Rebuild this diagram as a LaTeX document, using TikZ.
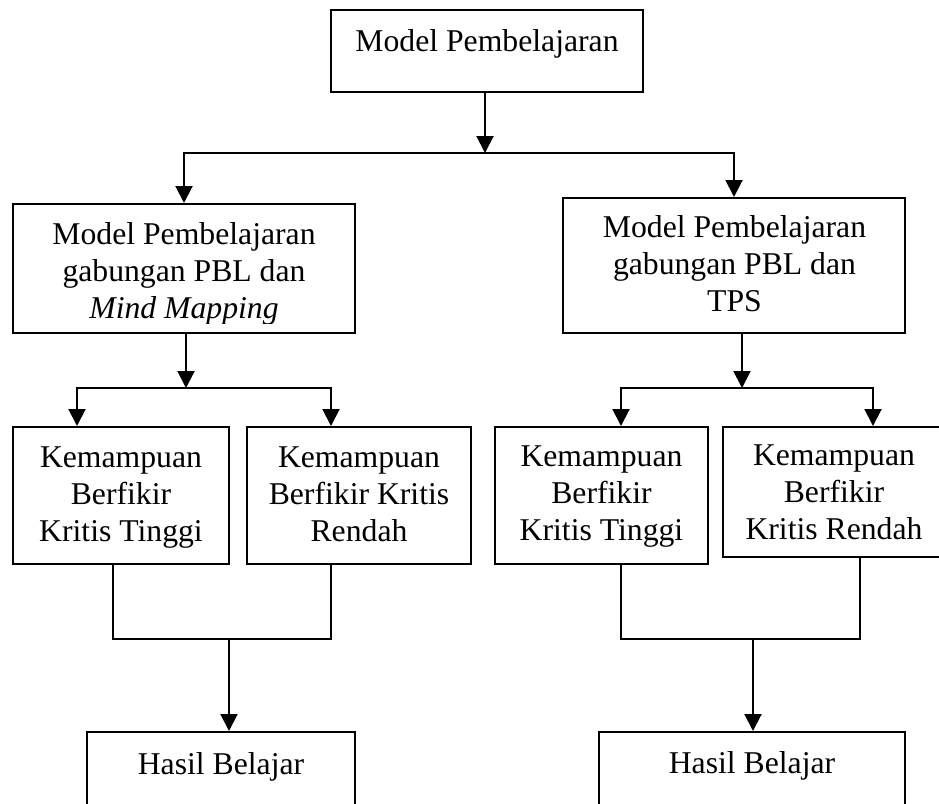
\documentclass[tikz,border=0pt]{standalone}
\usepackage{fontspec}
\setmainfont{Liberation Serif}
\usetikzlibrary{arrows.meta}
\begin{document}
\begin{tikzpicture}[x=1pt,y=-1pt,
  box/.style={draw,line width=2pt,rectangle,inner sep=0pt},
  txt/.style={inner sep=0pt,align=center,font=\fontsize{31.7}{37}\selectfont},
  conn/.style={line width=2pt},
  arr/.style={line width=2pt,-{Triangle[width=17pt,length=17pt]}},
  arrb/.style={line width=2pt,{Triangle[width=17pt,length=17pt]}-{Triangle[width=17pt,length=17pt]}}]
\useasboundingbox (0,0) rectangle (939,803);
\clip (0,0) rectangle (939,803);
% boxes
\node[box,minimum width=312pt,minimum height=82pt] (top) at (487,51) {};
\node[box,minimum width=342pt,minimum height=129pt] (lb) at (184,268.5) {};
\node[box,minimum width=342pt,minimum height=135pt] (rb) at (734,265.5) {};
\node[box,minimum width=216pt,minimum height=137pt] (kbt1) at (121,495.5) {};
\node[box,minimum width=224pt,minimum height=137pt] (kbr1) at (359,495.5) {};
\node[box,minimum width=213pt,minimum height=137pt] (kbt2) at (601.5,495.5) {};
\node[box,minimum width=222pt,minimum height=130pt] (kbr2) at (834,492) {};
\node[box,minimum width=268pt,minimum height=108pt] (h1) at (221,786) {};
\node[box,minimum width=306pt,minimum height=108pt] (h2) at (752,786) {};
% texts
\node[txt,anchor=base] (toptxt) at (487,51) {Model Pembelajaran};
\begin{scope}
\clip (lb.north west) rectangle ([yshift=11pt]lb.south east);
\node[txt] (lbtxt) at (184,274) {Model Pembelajaran\\gabungan PBL dan\\\textit{Mind Mapping}};
\end{scope}
\node[txt] (rbtxt) at (734.5,263.7) {Model Pembelajaran\\gabungan PBL dan\\TPS};
\node[txt] (kbt1txt) at (121,497.5) {Kemampuan\\Berfikir\\Kritis Tinggi};
\node[txt] (kbr1txt) at (359,494) {Kemampuan\\Berfikir Kritis\\Rendah};
\node[txt] (kbt2txt) at (601.5,496.5) {Kemampuan\\Berfikir\\Kritis Tinggi};
\node[txt] (kbr2txt) at (834,492.5) {Kemampuan\\Berfikir\\Kritis Rendah};
\node[txt,anchor=base] (h1txt) at (221,774) {Hasil Belajar};
\node[txt,anchor=base] (h2txt) at (752,773) {Hasil Belajar};
% junction coordinates
\coordinate (j0) at (485,153);
\coordinate (j1) at (186,388);
\coordinate (a1) at (77,388);
\coordinate (b1) at (331,388);
\coordinate (j2) at (742,388);
\coordinate (a2) at (621,388);
\coordinate (b2) at (873,388);
\coordinate (c1) at (113,639);
\coordinate (d1) at (331,639);
\coordinate (m1) at (229,639);
\coordinate (c2) at (621,639);
\coordinate (d2) at (860,639);
\coordinate (m2) at (753,639);
% connectors
\draw[arr] (top.south -| j0) -- (j0);
\draw[arrb] (lb.north) -- (lb.north |- j0) -- (rb.north |- j0) -- (rb.north);
\draw[arr] (lb.south -| j1) -- (j1);
\draw[arrb] (kbt1.north -| a1) -- (a1) -- (b1) -- (kbr1.north -| b1);
\draw[arr] (rb.south -| j2) -- (j2);
\draw[arrb] (kbt2.north -| a2) -- (a2) -- (b2) -- (kbr2.north -| b2);
\draw[conn] (kbt1.south -| c1) -- (c1) -- (d1) -- (kbr1.south -| d1);
\draw[arr] (m1) -- (h1.north -| m1);
\draw[conn] (kbt2.south -| c2) -- (c2) -- (d2) -- (kbr2.south -| d2);
\draw[arr] (m2) -- (h2.north -| m2);
\end{tikzpicture}
\end{document}
